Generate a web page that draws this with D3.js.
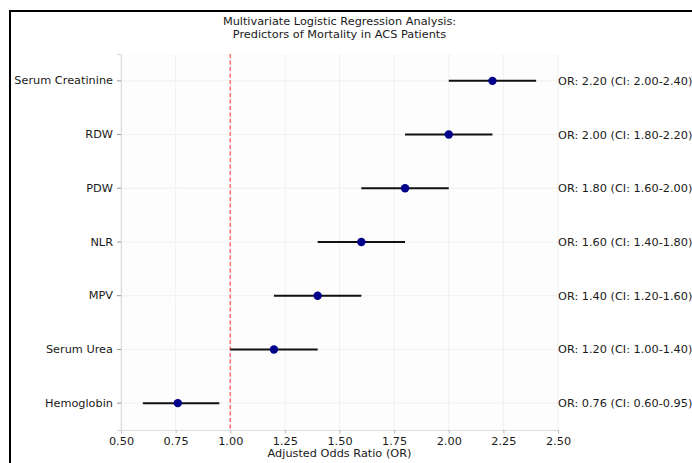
<!DOCTYPE html>
<html><head><meta charset="utf-8">
<script src="https://cdn.jsdelivr.net/npm/d3@7"></script>
<style>body{margin:0;background:#fff}svg{display:block}text{font-family:"DejaVu Sans",sans-serif;fill:#1a1a1a}</style>
</head><body><div id="c"></div>
<script>
const categories = ["Serum Creatinine","RDW","PDW","NLR","MPV","Serum Urea","Hemoglobin"];
const orValues = [2.20,2.00,1.80,1.60,1.40,1.20,0.76];
const ciLow = [2.00,1.80,1.60,1.40,1.20,1.00,0.60];
const ciHigh = [2.40,2.20,2.00,1.80,1.60,1.40,0.95];
const orLabels = ["2.20","2.00","1.80","1.60","1.40","1.20","0.76"];
const ciLabels = ["2.00-2.40","1.80-2.20","1.60-2.00","1.40-1.80","1.20-1.60","1.00-1.40","0.60-0.95"];
const xTicks = [0.5,0.75,1.0,1.25,1.5,1.75,2.0,2.25,2.5];
const titleLines = ["Multivariate Logistic Regression Analysis:","Predictors of Mortality in ACS Patients"];

const W=692,H=463,FS=11.3;
const m={l:121,r:558,t:54,b:430};
const svg=d3.select("#c").append("svg").attr("width",W).attr("height",H);
svg.append("rect").attr("width",W).attr("height",H).attr("fill","#fff");
// figure frame (clipped at right/bottom)
svg.append("rect").attr("x",10).attr("y",11).attr("width",W+20).attr("height",H+20)
  .attr("fill","none").attr("stroke","#000").attr("stroke-width",2);

const x=d3.scaleLinear().domain([0.5,2.5]).range([m.l,m.r]);
const y=d3.scaleBand().domain(categories).range([m.t,m.b]);
const yc=c=>y(c)+y.bandwidth()/2;

svg.append("rect").attr("x",m.l).attr("y",m.t).attr("width",m.r-m.l).attr("height",m.b-m.t).attr("fill","#fdfdfd");

// grid
svg.append("g").selectAll("line").data(xTicks).join("line")
  .attr("x1",d=>x(d)).attr("x2",d=>x(d)).attr("y1",m.t).attr("y2",m.b)
  .attr("stroke","#eeeeee").attr("stroke-width",0.8);
svg.append("g").selectAll("line").data(categories).join("line")
  .attr("x1",m.l).attr("x2",m.r).attr("y1",d=>yc(d)).attr("y2",d=>yc(d))
  .attr("stroke","#eeeeee").attr("stroke-width",0.8);

// axes
const xAxis=svg.append("g").attr("transform",`translate(0,${m.b})`)
  .call(d3.axisBottom(x).tickValues(xTicks).tickFormat(d3.format(".2f")).tickSizeOuter(0).tickSize(3.5).tickPadding(3));
xAxis.select(".domain").attr("stroke","#dcdcdc").attr("stroke-width",1.2);
xAxis.selectAll(".tick line").attr("stroke","#bbb");
xAxis.selectAll("text").attr("font-size",FS).attr("font-family","DejaVu Sans").attr("fill","#1a1a1a");

const yAxis=svg.append("g").attr("transform",`translate(${m.l},0)`)
  .call(d3.axisLeft(y).tickSizeOuter(0).tickSize(4).tickPadding(4));
yAxis.select(".domain").attr("stroke","#dcdcdc").attr("stroke-width",1.2);
yAxis.selectAll(".tick line").attr("stroke","#999");
yAxis.selectAll("text").attr("font-size",FS).attr("font-family","DejaVu Sans").attr("fill","#1a1a1a");

// reference line
svg.append("line").attr("x1",x(1)).attr("x2",x(1)).attr("y1",m.t).attr("y2",m.b)
  .attr("stroke","#ff5555").attr("stroke-width",1.4).attr("stroke-dasharray","4,2.5").attr("opacity",0.9);

// error bars
const rows=categories.map((c,i)=>({c,or:orValues[i],lo:ciLow[i],hi:ciHigh[i],ol:orLabels[i],cl:ciLabels[i]}));
svg.append("g").selectAll("line").data(rows).join("line")
  .attr("x1",d=>x(d.lo)).attr("x2",d=>x(d.hi)).attr("y1",d=>yc(d.c)).attr("y2",d=>yc(d.c))
  .attr("stroke","#111").attr("stroke-width",2);
svg.append("g").selectAll("circle").data(rows).join("circle")
  .attr("cx",d=>x(d.or)).attr("cy",d=>yc(d.c)).attr("r",4.2).attr("fill","#00008b");

// annotations
svg.append("g").selectAll("text").data(rows).join("text")
  .attr("x",x(2.5)).attr("y",d=>yc(d.c)).attr("dy","0.35em")
  .attr("font-size",FS).text(d=>`OR: ${d.ol} (CI: ${d.cl})`);

// title
svg.append("g").selectAll("text").data(titleLines).join("text")
  .attr("x",(m.l+m.r)/2).attr("y",(d,i)=>25+i*13).attr("text-anchor","middle")
  .attr("font-size",FS).text(d=>d);
// x label
svg.append("text").attr("x",(m.l+m.r)/2).attr("y",457).attr("text-anchor","middle")
  .attr("font-size",FS).text("Adjusted Odds Ratio (OR)");
</script></body></html>
